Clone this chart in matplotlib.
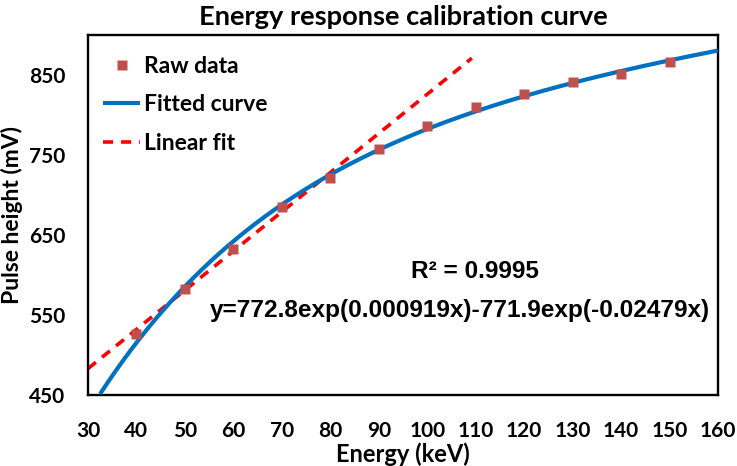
import numpy as np
import matplotlib
matplotlib.use("Agg")
import matplotlib.pyplot as plt

# Data
energy = [40, 50, 60, 70, 80, 90, 100, 110, 120, 130, 140, 150]
pulse = [526, 583, 633, 685, 721, 758, 786, 810, 826, 841, 851, 866]

# Fitted curve parameters (from the equation shown)
fit_a, fit_b, fit_c, fit_d = 772.8, 0.000919, 771.9, -0.02479
fit_range = (32.5, 160)

# Linear fit
lin_slope, lin_intercept = 4.90, 336.0
lin_range = (30, 109.2)

xticks = [30, 40, 50, 60, 70, 80, 90, 100, 110, 120, 130, 140, 150, 160]
yticks = [450, 550, 650, 750, 850]

FONT = 'Lato'
fig = plt.figure(figsize=(7.37, 4.66), dpi=100)
ax = fig.add_axes([88/737, 1-395/466, (718-88)/737, (395-35)/466])

xf = np.linspace(fit_range[0], fit_range[1], 400)
yf = fit_a*np.exp(fit_b*xf) - fit_c*np.exp(fit_d*xf)
xl = np.array(lin_range)
yl = lin_slope*xl + lin_intercept

ax.plot(xf, yf, color='#0070C0', lw=3.0, label='Fitted curve', zorder=3, solid_capstyle='butt')
ax.plot(xl, yl, color='#FF0000', lw=2.6, dashes=(2.8, 2.2), label='Linear fit', zorder=2)
ax.plot(energy, pulse, 's', color='#C0504D', ms=7.5, mec='none', label='Raw data', zorder=4)

ax.set_xlim(30, 160)
ax.set_ylim(450, 900)
ax.set_xticks(xticks)
ax.set_yticks(yticks)
ax.tick_params(axis='x', length=0, pad=19)
ax.tick_params(axis='y', length=0, pad=16.5)
for lab in ax.get_xticklabels() + ax.get_yticklabels():
    lab.set_fontfamily(FONT)
    lab.set_fontweight('bold')
    lab.set_fontsize(15)
for s in ax.spines.values():
    s.set_linewidth(1.7)
    s.set_color('black')

ax.set_xlabel('Energy (keV)', fontfamily=FONT, fontweight='bold', fontsize=17, labelpad=1)
ax.set_ylabel('Pulse height (mV)', fontfamily=FONT, fontweight='bold', fontsize=16.5)
ax.yaxis.set_label_coords((23 - 88) / 630, 0.5)
ax.set_title('Energy response calibration curve', fontfamily=FONT, fontweight='bold', fontsize=19.6, pad=7)

h, l = ax.get_legend_handles_labels()
order = [2, 0, 1]
leg = ax.legend([h[i] for i in order], [l[i] for i in order], loc='upper left', frameon=False,
                prop={'family': FONT, 'weight': 'bold', 'size': 16.5},
                handlelength=1.6, handletextpad=0.15, labelspacing=0.77,
                borderaxespad=0, bbox_to_anchor=(0.01, 0.968), markerscale=0.9)

fig.text(475/737, 1-272/466, 'R² = 0.9995', ha='center', va='center',
         fontfamily='Liberation Sans', fontweight='bold', fontsize=17.6)
fig.text(460/737, 1-310/466, 'y=772.8exp(0.000919x)-771.9exp(-0.02479x)', ha='center', va='center',
         fontfamily='Liberation Sans', fontweight='bold', fontsize=17.6)

fig.savefig('out.png', dpi=100)
